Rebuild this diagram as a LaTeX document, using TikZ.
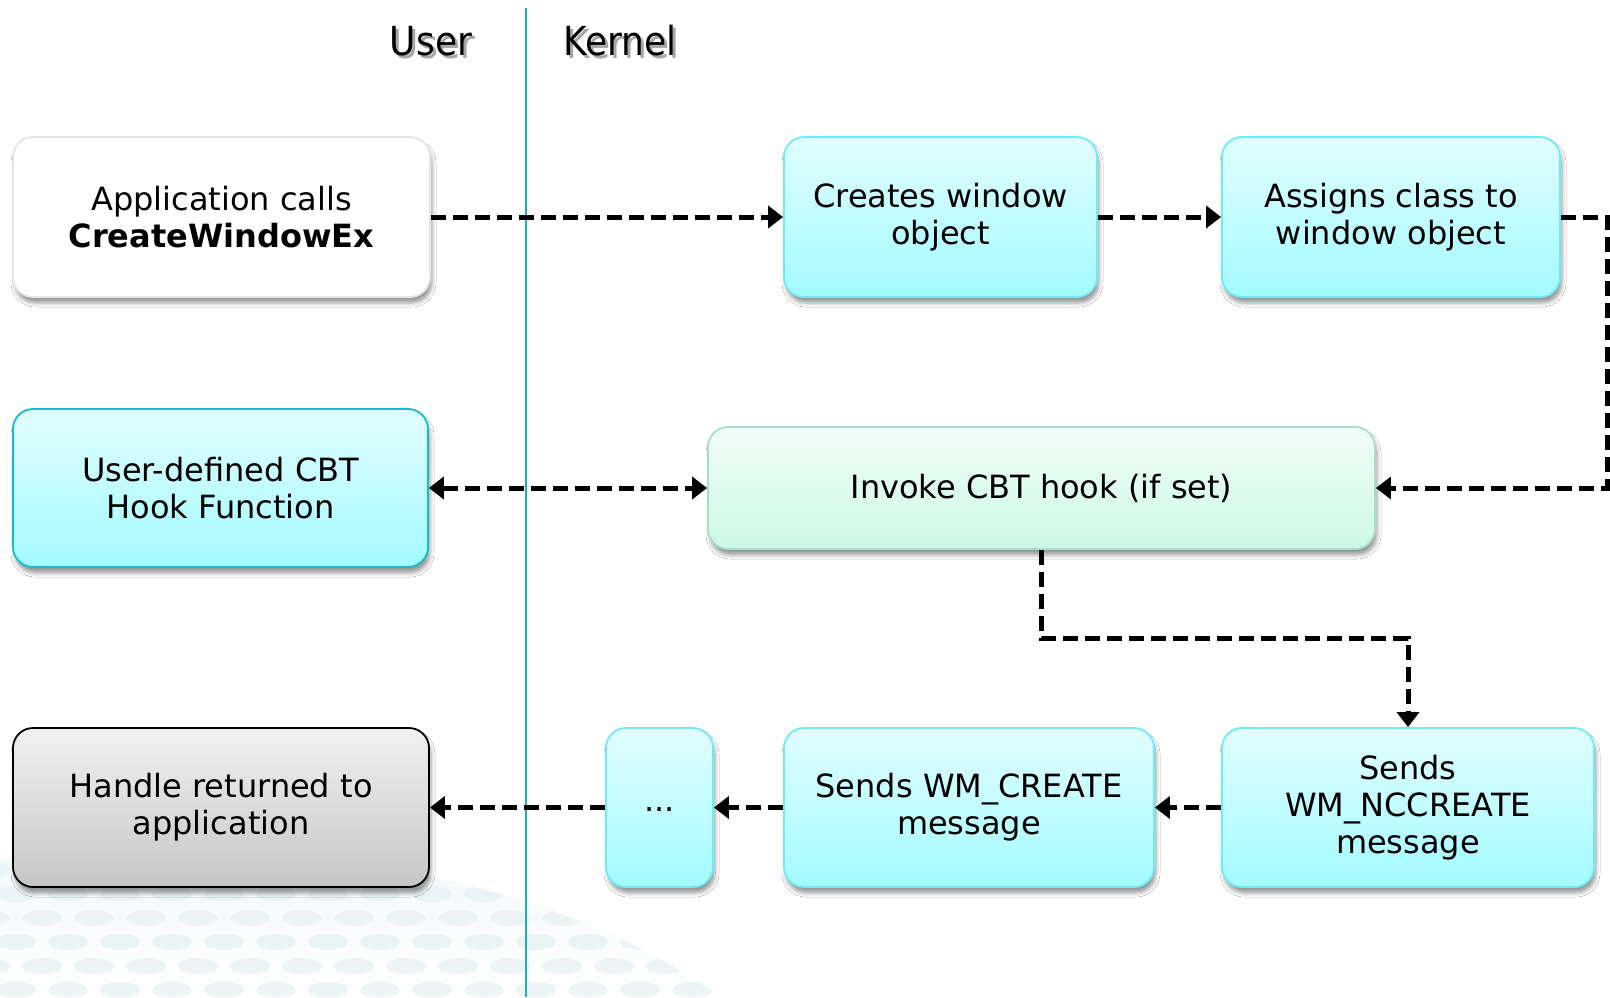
\documentclass[tikz,border=0pt]{standalone}
\usepackage{fontspec}
\setmainfont{DejaVu Sans}
\newfontfamily\condfont{DejaVu Sans Condensed}
\usetikzlibrary{arrows.meta,shadows,shadows.blur,calc}
\definecolor{cyanlight}{HTML}{E2FDFF}
\definecolor{cyandark}{HTML}{A2FBFF}
\definecolor{cyanborder}{HTML}{70EAF6}
\definecolor{cyanstrong}{HTML}{14BCCB}
\definecolor{mintlight}{HTML}{F1FDF8}
\definecolor{mintdark}{HTML}{CDF8E6}
\definecolor{mintborder}{HTML}{A9DCCB}
\definecolor{greylight}{HTML}{F1F1F1}
\definecolor{greydark}{HTML}{C6C6C6}
\definecolor{laneline}{HTML}{1AAFC6}
\definecolor{bgband}{HTML}{F1F7F8}
\definecolor{bgdot}{HTML}{E8F2F4}
\tikzset{
  box/.style={rectangle, rounded corners=20pt, line width=1.8pt, align=center,
    inner sep=0pt, font=\fontsize{32}{37}\selectfont,
    blur shadow={shadow xshift=2pt, shadow yshift=-6pt, shadow opacity=40,
      shadow blur radius=4pt}},
  cyanbox/.style={box, draw=cyanborder, top color=cyanlight, bottom color=cyandark},
  flow/.style={line width=5pt, dash pattern=on 15pt off 7pt,
    -{Triangle[length=15pt,width=22pt]}},
  flowboth/.style={flow, {Triangle[length=15pt,width=22pt]}-{Triangle[length=15pt,width=22pt]}},
  lanelabel/.style={font=\condfont\fontsize{40}{44}\selectfont, inner sep=0pt}
}
\begin{document}
\begin{tikzpicture}[x=1pt,y=-1pt]
\useasboundingbox (0,0) rectangle (1610,997);
\fill[white] (0,0) rectangle (1610,997);
% faint background swoosh at lower left
\begin{scope}
\clip (0,997) -- (0,860) .. controls (300,830) and (560,880) .. (720,997) -- cycle;
\shade[top color=bgband, bottom color=white] (0,840) rectangle (720,997);
\foreach \row in {0,...,5}{
  \foreach \col in {0,...,14}{
    \fill[bgdot, opacity=0.8] ({\col*52+mod(\row,2)*26-10},{870+\row*24}) ellipse (20pt and 8pt);
  }
}
\end{scope}
% lane separator
\coordinate (lanetop) at (526,8);
\coordinate (lanebot) at (526,997);
\draw[laneline, line width=1.6pt] (lanetop) -- (lanebot);
% lane labels with shadow
\node[lanelabel, text=black!35] at (434,44) {User};
\node[lanelabel] (user) at (431,41) {User};
\node[lanelabel, text=black!35] at (623,44) {Kernel};
\node[lanelabel] (kernel) at (620,41) {Kernel};
% boxes
\node[box, draw=black!10, fill=white, minimum width=417pt, minimum height=160pt]
  (app) at (221.5,217) {Application calls\\\textbf{CreateWindowEx}};
\node[cyanbox, minimum width=313pt, minimum height=160pt]
  (create) at (940.5,217) {Creates window\\object};
\node[cyanbox, minimum width=338pt, minimum height=160pt]
  (assign) at (1391,217) {Assigns class to\\window object};
\node[box, draw=cyanstrong, top color=cyanlight, bottom color=cyandark,
  minimum width=415pt, minimum height=158pt]
  (hookfn) at (220.5,488) {User-defined CBT\\Hook Function};
\node[box, draw=mintborder, top color=mintlight, bottom color=mintdark,
  minimum width=667pt, minimum height=122pt]
  (invoke) at (1041.5,488) {\raisebox{-4pt}{Invoke CBT hook (if set)}};
\node[box, draw=black, top color=greylight, bottom color=greydark,
  minimum width=416pt, minimum height=159pt]
  (handle) at (221,807.5) {Handle returned to\\application};
\node[cyanbox, minimum width=107pt, minimum height=159pt]
  (dots) at (659.5,807.5) {\raisebox{-8pt}{...}};
\node[cyanbox, minimum width=370pt, minimum height=159pt]
  (wmcreate) at (969,807.5) {Sends WM\_CREATE\\message};
\node[cyanbox, minimum width=372pt, minimum height=159pt]
  (wmnc) at (1408,807.5) {Sends\\WM\_NCCREATE\\message};
% connectors
\coordinate (rightturn) at (1607,488);
\coordinate (midturn) at (1041.5,638);
\draw[flow] (app.east) -- (create.west);
\draw[flow] (create.east) -- (assign.west);
\draw[flow] (assign.east) -| (rightturn) -- (invoke.east);
\draw[flowboth] (hookfn.east) -- (invoke.west);
\draw[flow] (invoke.south) -- (midturn) -| (wmnc.north);
\draw[flow] (wmnc.west) -- (wmcreate.east);
\draw[flow] (wmcreate.west) -- (dots.east);
\draw[flow] (dots.west) -- (handle.east);
\end{tikzpicture}
\end{document}
